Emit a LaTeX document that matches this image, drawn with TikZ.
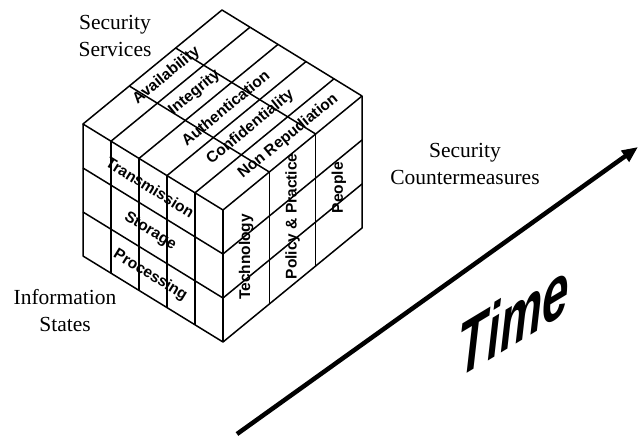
\documentclass[tikz,border=0pt]{standalone}
\usepackage{fontspec}
\setmainfont{Liberation Serif}
\newfontfamily\cubefont{Liberation Sans}
\usetikzlibrary{calc, arrows.meta}
\tikzstyle{cubeline} = [line width=1.5pt, black, line join=round]
\tikzstyle{facelabel} = [font=\cubefont\bfseries\fontsize{15.5}{15.5}\selectfont, inner sep=0pt]
\tikzstyle{caption} = [align=center, font=\fontsize{21.5}{27}\selectfont, inner sep=0pt]
\tikzstyle{timearrow} = [line width=4.5pt, -{Triangle[length=16pt,width=13pt]}]

\begin{document}
\begin{tikzpicture}[x=1pt, y=1pt]
    \useasboundingbox (0,0) rectangle (639,-437);

    % Cube corners
    \coordinate (F) at (223,-210);
    \coordinate (L) at (83,-124);
    \coordinate (R) at (362,-96);
    \coordinate (B) at (222,-10);
    \coordinate (Fb) at (223,-342);
    \coordinate (Lb) at (83,-256);
    \coordinate (Rb) at (362,-228);

    % Outline
    \draw[cubeline] (F) -- (L) -- (B) -- (R) -- cycle;
    \draw[cubeline] (L) -- (Lb) -- (Fb) -- (Rb) -- (R);
    \draw[cubeline] (F) -- (Fb);

    % Services strips (top and left face)
    \foreach \s in {0.2,0.4,0.6,0.8} {
            \draw[cubeline] ($(F)!\s!(L)$) -- ($(R)!\s!(B)$);
            \draw[cubeline] ($(F)!\s!(L)$) -- ($(Fb)!\s!(Lb)$);
        }

    % Countermeasure strips (top and right face)
    \foreach \t in {0.3333,0.6667} {
            \draw[cubeline] ($(F)!\t!(R)$) -- ($(L)!\t!(B)$);
            \draw[cubeline] ($(F)!\t!(R)$) -- ($(Fb)!\t!(Rb)$);
        }

    % State rows (left and right face)
    \foreach \r in {0.3333,0.6667} {
            \draw[cubeline] ($(F)!\r!(Fb)$) -- ($(L)!\r!(Lb)$);
            \draw[cubeline] ($(F)!\r!(Fb)$) -- ($(R)!\r!(Rb)$);
        }

    % Top face labels
    \foreach \lab/\s/\t [count=\i] in {Availability/0.9/0.5, Integrity/0.7/0.5, Authentication/0.5/0.52, Confidentiality/0.3/0.5, Non Repudiation/0.1/0.57} {
            \node[facelabel, rotate=39.4] (svc\i) at ($(F)!\s!(L) + (F)!\t!(R) - (F)$) {\lab};
        }

    % Left face labels
    \foreach \lab/\r [count=\i] in {Transmission/0.1667, Storage/0.5, Processing/0.8333} {
            \node[facelabel, rotate=-31.6] (state\i) at ($(F)!0.52!(L) + (F)!\r!(Fb) - (F)$) {\lab};
        }

    % Right face labels
    \foreach \lab/\t/\r [count=\i] in {Technology/0.1667/0.5, {Policy \& Practice}/0.5/0.48, People/0.8333/0.55} {
            \node[facelabel, rotate=90] (measure\i) at ($(F)!\t!(R) + (F)!\r!(Fb) - (F)$) {\lab};
        }

    % Captions
    \node[caption] (services) at (115,-36) {Security\\Services};
    \node[caption] (states) at (65,-311) {Information\\States};
    \node[caption] (measures) at (465,-164) {Security\\Countermeasures};

    % Time axis
    \coordinate (timeStart) at (237,-434);
    \coordinate (timeEnd) at (638,-147);
    \draw[timearrow] (timeStart) -- (timeEnd);
    \begin{scope}[shift={(514,-318)}]
        \node[transform shape, cm={0.68,0.41,0,1.08,(0,0)}, inner sep=0pt,
            font=\cubefont\bfseries\itshape\fontsize{70}{70}\selectfont] (timeLabel) at (0,0) {Time};
    \end{scope}
\end{tikzpicture}
\end{document}
